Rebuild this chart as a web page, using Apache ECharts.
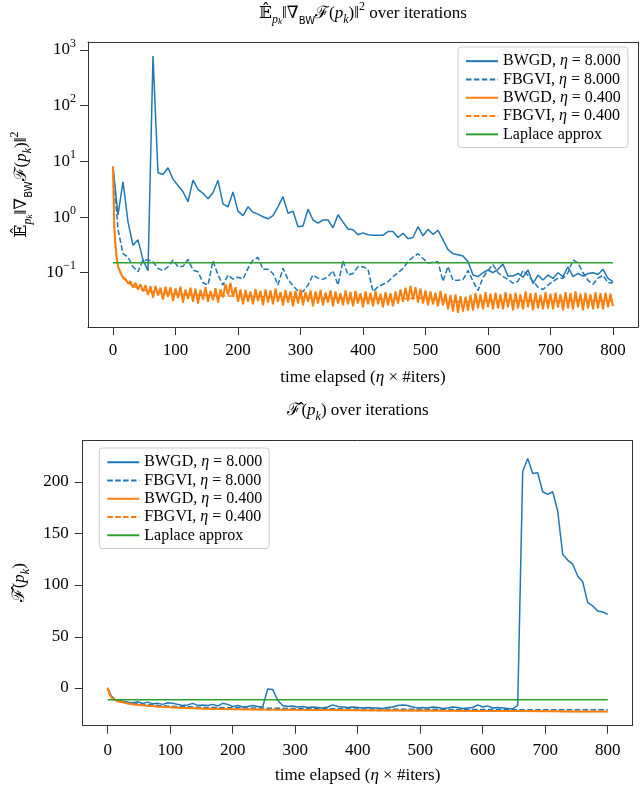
<!DOCTYPE html>
<html><head><meta charset="utf-8">
<script src="https://cdn.jsdelivr.net/npm/echarts@6/dist/echarts.min.js"></script>
<style>html,body{margin:0;padding:0;background:#fff}#c{width:640px;height:785px}</style>
</head><body><div id="c"></div>
<script>
// ---------------- data ----------------
const xTicks = [0, 100, 200, 300, 400, 500, 600, 700, 800];
const topYTicks = [0.1, 1, 10, 100, 1000];
const botYTicks = [0, 50, 100, 150, 200];
const names = ['BWGD, η = 8.000', 'FBGVI, η = 8.000', 'BWGD, η = 0.400', 'FBGVI, η = 0.400', 'Laplace approx'];

// eta = 8 runs: one value every 8 time units (x = 0, 8, ..., 800)
const topBwgd8 = [
  8.0, 1.09, 4.3, 0.82, 0.31, 0.39, 0.17, 0.109, 782, 6.25,
  5.8, 7.7, 4.8, 3.7, 2.85, 1.88, 4.6, 3.15, 2.67, 2.13,
  2.73, 4.57, 1.71, 1.53, 2.82, 1.28, 1.06, 1.53, 1.22, 1.13,
  1.01, 0.93, 1.06, 1.53, 2.32, 1.17, 1.28, 0.67, 0.69, 1.39,
  0.885, 0.78, 0.885, 0.885, 0.64, 1.10, 0.81, 0.61, 0.59, 0.48,
  0.52, 0.48, 0.47, 0.47, 0.47, 0.55, 0.55, 0.43, 0.51, 0.41,
  0.43, 0.67, 0.46, 0.60, 0.49, 0.58, 0.39, 0.26, 0.22, 0.21,
  0.20, 0.158, 0.091, 0.085, 0.10, 0.112, 0.10, 0.115, 0.143, 0.087,
  0.087, 0.097, 0.083, 0.112, 0.064, 0.091, 0.074, 0.091, 0.079, 0.10,
  0.085, 0.128, 0.085, 0.097, 0.087, 0.097, 0.10, 0.093, 0.115, 0.079,
  0.069
];
const topFbgvi8 = [
  8.0, 0.6, 0.22, 0.19, 0.128, 0.104, 0.169, 0.169, 0.158, 0.12,
  0.109, 0.128, 0.169, 0.128, 0.13, 0.174, 0.112, 0.104, 0.066, 0.060,
  0.164, 0.091, 0.060, 0.091, 0.077, 0.083, 0.077, 0.12, 0.169, 0.188,
  0.115, 0.115, 0.097, 0.060, 0.12, 0.076, 0.058, 0.047, 0.046, 0.060,
  0.091, 0.080, 0.076, 0.085, 0.109, 0.060, 0.164, 0.091, 0.097, 0.128,
  0.128, 0.115, 0.046, 0.056, 0.062, 0.069, 0.085, 0.10, 0.12, 0.16,
  0.19, 0.22, 0.18, 0.15, 0.155, 0.158, 0.07, 0.129, 0.073, 0.073,
  0.075, 0.11, 0.07, 0.048, 0.082, 0.11, 0.14, 0.10, 0.085, 0.076,
  0.065, 0.07, 0.11, 0.09, 0.07, 0.055, 0.05, 0.06, 0.07, 0.08,
  0.08, 0.10, 0.17, 0.15, 0.10, 0.073, 0.062, 0.08, 0.09, 0.066,
  0.066
];
// eta = 0.4 BWGD (top): x = 0,2,4,6,8 then 12..800 every 4 (noisy band)
const topBwgd04Head = [8.0, 0.7, 0.3, 0.18, 0.13];
const topBwgd04 = [
  0.10, 0.080, 0.078, 0.064, 0.070, 0.054, 0.066, 0.050, 0.062, 0.046,
  0.060, 0.040, 0.057, 0.036, 0.058, 0.039, 0.054, 0.033, 0.056, 0.037,
  0.055, 0.031, 0.052, 0.035, 0.056, 0.029, 0.050, 0.034, 0.054, 0.030,
  0.052, 0.028, 0.049, 0.033, 0.055, 0.030, 0.047, 0.032, 0.053, 0.029,
  0.050, 0.036, 0.062, 0.040, 0.066, 0.037, 0.055, 0.030, 0.050, 0.027,
  0.049, 0.030, 0.046, 0.027, 0.051, 0.031, 0.047, 0.026, 0.050, 0.029,
  0.048, 0.027, 0.052, 0.030, 0.045, 0.026, 0.049, 0.029, 0.046, 0.025,
  0.047, 0.028, 0.050, 0.026, 0.045, 0.030, 0.048, 0.025, 0.046, 0.028,
  0.049, 0.026, 0.044, 0.029, 0.048, 0.025, 0.046, 0.028, 0.043, 0.026,
  0.048, 0.027, 0.045, 0.025, 0.047, 0.028, 0.043, 0.024, 0.046, 0.027,
  0.044, 0.025, 0.047, 0.027, 0.042, 0.024, 0.045, 0.026, 0.043, 0.025,
  0.046, 0.028, 0.050, 0.030, 0.054, 0.031, 0.058, 0.033, 0.055, 0.029,
  0.052, 0.028, 0.048, 0.026, 0.046, 0.027, 0.044, 0.025, 0.047, 0.026,
  0.042, 0.022, 0.040, 0.020, 0.041, 0.019, 0.038, 0.020, 0.037, 0.021,
  0.040, 0.021, 0.043, 0.023, 0.041, 0.022, 0.045, 0.024, 0.042, 0.022,
  0.044, 0.023, 0.041, 0.022, 0.045, 0.024, 0.042, 0.021, 0.044, 0.023,
  0.041, 0.022, 0.046, 0.024, 0.043, 0.021, 0.044, 0.023, 0.040, 0.022,
  0.045, 0.023, 0.042, 0.022, 0.044, 0.024, 0.041, 0.021, 0.045, 0.023,
  0.043, 0.022, 0.046, 0.024, 0.042, 0.021, 0.044, 0.023, 0.041, 0.022,
  0.045, 0.023, 0.043, 0.022, 0.044, 0.024, 0.042, 0.025
];
const topFbgvi04X = [0, 2, 4, 6, 8, 12, 16, 20, 30, 40, 60, 80, 100, 150, 200, 250, 300, 350, 400, 450, 500, 550, 600, 650, 700, 750, 800];
const topFbgvi04 = [8.0, 0.7, 0.3, 0.18, 0.13, 0.1, 0.085, 0.072, 0.06, 0.052, 0.046, 0.043, 0.041, 0.039, 0.038, 0.037, 0.036, 0.035, 0.034, 0.034, 0.035, 0.03, 0.031, 0.031, 0.031, 0.032, 0.031];
const topLaplace = 0.151;

const botBwgd8 = [
  0, -11, -12.5, -13, -14, -14.5, -13.5, -15, -13.8, -15.5,
  -15, -16, -14.5, -15, -16, -17, -16.5, -15, -17, -16.5,
  -17, -16, -17.5, -15, -16, -18, -17, -18.5, -18, -17,
  -18, -18.5, -1, -1.5, -12, -17, -18, -17.5, -18.5, -18,
  -19, -18.5, -19, -19.5, -18.5, -16.5, -18, -18.5, -19, -18.5,
  -19, -19.5, -19, -19.5, -19.5, -20, -19, -18.5, -17, -16.5,
  -17, -18.5, -19.5, -19, -19.5, -18.5, -19, -20, -19.5, -18.5,
  -19, -20, -19.5, -19, -16.5, -18.5, -17.5, -19.5, -19, -19.5,
  -20, -20.3, -17, 210, 222.6, 208, 208.7, 190.3, 187.7, 190.3,
  171.5, 129.6, 124, 120, 108.6, 103, 82.7, 79.5, 74.7, 73.7,
  71.4
];
const botSmoothX = [0, 3, 6, 10, 15, 20, 30, 40, 50, 60, 80, 100, 125, 150, 200, 250, 300, 350, 400, 450, 500, 550, 600, 650, 700, 750, 800];
const botFbgvi8 = [0, -5, -8, -10, -11.5, -12.5, -13.8, -14.8, -15.5, -16, -17, -17.8, -18.3, -18.9, -19.3, -19.6, -20, -20.2, -20.4, -20.6, -20.7, -20.9, -21, -21.1, -21.2, -21.3, -21.3];
const botBwgd04 = [0, -6, -9, -11, -12.5, -13.5, -14.8, -15.8, -16.5, -17.1, -18.1, -18.9, -19.5, -20, -20.6, -21, -21.3, -21.5, -21.7, -21.9, -22, -22.2, -22.4, -22.5, -22.6, -22.8, -22.9];
const botFbgvi04 = [0, -6.3, -9.2, -11.2, -12.6, -13.6, -14.9, -15.9, -16.6, -17.2, -18.2, -19, -19.6, -20.1, -20.7, -21.1, -21.4, -21.6, -21.8, -22, -22.1, -22.3, -22.5, -22.6, -22.7, -22.9, -23];
const botLaplace = -11.5;

// ---------------- helpers ----------------
const BLUE = '#1f77b4', ORANGE = '#ff7f0e', GREEN = '#2ca02c';
const SERIF = "'Liberation Serif','DejaVu Serif',serif";
const SANS = "'DejaVu Sans','Liberation Sans',sans-serif";
const AX = '#333';
const DASH = [5.5, 2.4];
const TICK_LEN = 8;

// plot boxes
const TOP = {left: 88, top: 42, width: 550, height: 285, xmin: -40, xmax: 840, lmin: 0.0106, lmax: 1393};
const BOT = {left: 82.7, top: 440.5, width: 550, height: 285.2, xmin: -40, xmax: 840, ymin: -36, ymax: 240};

function mathRich(fs) {
  const lh = Math.round(fs * 1.45);
  const base = {fontFamily: SERIF, fontWeight: 'normal', color: '#000'};
  return {
    m: Object.assign({}, base, {fontSize: fs, lineHeight: lh}),
    i: Object.assign({}, base, {fontSize: fs, lineHeight: lh, fontStyle: 'italic'}),
    sb: Object.assign({}, base, {fontSize: Math.round(fs * 0.7), lineHeight: Math.round(fs * 0.85), verticalAlign: 'bottom', fontStyle: 'italic'}),
    ssb: Object.assign({}, base, {fontSize: Math.round(fs * 0.55), lineHeight: Math.round(fs * 0.6), verticalAlign: 'bottom', fontStyle: 'italic'}),
    bw: Object.assign({}, base, {fontFamily: SANS, fontSize: Math.round(fs * 0.6), lineHeight: Math.round(fs * 0.85), verticalAlign: 'bottom'}),
    sp: Object.assign({}, base, {fontSize: Math.round(fs * 0.7), lineHeight: Math.round(fs * 0.85), verticalAlign: 'top'})
  };
}
const gradText = '{m|𝔼̂}{sb|p}{ssb|k}{m|‖∇}{bw|BW}{m|ℱ(}{i|p}{sb|k}{m|)‖}{sp|2}';
const fText = '{m|ℱ̂(}{i|p}{sb|k}{m|)}';
const xName = '{m|time elapsed (}{i|η}{m| × #iters)}';

function pairs(xs, ys) { return ys.map((v, k) => [xs[k], v]); }
const x8 = topBwgd8.map((_, k) => k * 8);
const topOrangeX = [0, 2, 4, 6, 8].concat(topBwgd04.map((_, k) => 12 + k * 4));

function lineSeries(name, data, color, dashed, ai, w) {
  return {
    name, type: 'line', data, xAxisIndex: ai, yAxisIndex: ai,
    showSymbol: false, symbol: 'none', silent: true, animation: false,
    lineStyle: {color, width: w || 1.5, type: dashed ? DASH : 'solid'},
    itemStyle: {color}
  };
}

const axisLineOn = () => ({show: true, onZero: false, lineStyle: {color: AX, width: 1}});

function mainX(gi, margin) {
  return {
    type: 'value', gridIndex: gi, min: -40, max: 840, splitNumber: 9, position: 'bottom',
    axisLine: axisLineOn(),
    axisTick: {show: false},
    axisLabel: {showMinLabel: false, showMaxLabel: false, margin: margin,
      formatter: v => (xTicks.indexOf(v) >= 0 ? String(v) : ''),
      fontFamily: SERIF, fontSize: 17, color: '#000'},
    splitLine: {show: false},
    name: xName, nameLocation: 'middle', nameGap: 38,
    nameTextStyle: {rich: mathRich(17), verticalAlign: 'top'}
  };
}
// frame-only axes (top / right edge of each plot box)
function frameX(gi) {
  return {type: 'value', gridIndex: gi, min: -40, max: 840, position: 'top',
    axisLine: axisLineOn(), axisTick: {show: false}, axisLabel: {show: false}, splitLine: {show: false}};
}
function frameY(gi) {
  return {type: 'value', gridIndex: gi, min: 0, max: 1, position: 'right',
    axisLine: axisLineOn(), axisTick: {show: false}, axisLabel: {show: false}, splitLine: {show: false}};
}
// tick strips: thin grids just outside each box whose split lines act as outward ticks
const tickLine = {show: true, lineStyle: {color: AX, width: 1}};
function hiddenAxis(gi) {
  return {type: 'value', gridIndex: gi, min: 0, max: 1, show: false, splitLine: {show: false}};
}
function stripX(gi, ticks) {
  return {type: 'value', gridIndex: gi, min: ticks[0], max: ticks[ticks.length - 1], interval: ticks[1] - ticks[0],
    axisLine: {show: false}, axisTick: {show: false}, axisLabel: {show: false}, splitLine: tickLine};
}
function stripY(gi, ticks, log) {
  const o = {gridIndex: gi, min: ticks[0], max: ticks[ticks.length - 1],
    axisLine: {show: false}, axisTick: {show: false}, axisLabel: {show: false}, splitLine: tickLine, minorTick: {show: false}};
  if (log) { o.type = 'log'; o.logBase = 10; o.interval = 1; }
  else { o.type = 'value'; o.interval = ticks[1] - ticks[0]; }
  return o;
}
const topPx = TOP.width / (TOP.xmax - TOP.xmin);
const botPx = BOT.width / (BOT.xmax - BOT.xmin);
const topDecade = TOP.height / (Math.log10(TOP.lmax) - Math.log10(TOP.lmin));
const botPy = BOT.height / (BOT.ymax - BOT.ymin);
const stripGrids = [
  // 2: below top box
  {left: TOP.left + (xTicks[0] - TOP.xmin) * topPx, width: (xTicks[8] - xTicks[0]) * topPx, top: TOP.top + TOP.height, height: TICK_LEN},
  // 3: below bottom box
  {left: BOT.left + (xTicks[0] - BOT.xmin) * botPx, width: (xTicks[8] - xTicks[0]) * botPx, top: BOT.top + BOT.height, height: TICK_LEN},
  // 4: left of top box
  {left: TOP.left - TICK_LEN, width: TICK_LEN, top: TOP.top + (Math.log10(TOP.lmax) - Math.log10(topYTicks[4])) * topDecade,
   height: (Math.log10(topYTicks[4]) - Math.log10(topYTicks[0])) * topDecade},
  // 5: left of bottom box
  {left: BOT.left - TICK_LEN, width: TICK_LEN, top: BOT.top + (BOT.ymax - botYTicks[4]) * botPy,
   height: (botYTicks[4] - botYTicks[0]) * botPy}
];

const legendCommon = {
  orient: 'vertical', selectedMode: false, data: names,
  itemWidth: 32, itemHeight: 12, itemGap: 0,
  itemStyle: {opacity: 0},
  backgroundColor: '#fff', borderColor: '#ccc', borderWidth: 1, borderRadius: 3,
  padding: [5, 7, 4, 7],
  formatter: n => n.replace('η', '{i|η}'),
  textStyle: {
    fontFamily: SERIF, fontSize: 16, lineHeight: 18.3, color: '#000',
    rich: {i: {fontFamily: SERIF, fontSize: 16, lineHeight: 18.3, fontStyle: 'italic', color: '#000'}}
  }
};

const chart = echarts.init(document.getElementById('c'), null, {renderer: 'canvas'});
chart.setOption({
  animation: false,
  backgroundColor: '#fff',
  title: [
    {text: gradText + '{m| over iterations}', left: 363, top: 1, textAlign: 'center', padding: 0,
     textStyle: {fontWeight: 'normal', rich: mathRich(17)}},
    {text: '{m|ℱ̂(}{i|p}{sb|k}{m|) over iterations}', left: 358, top: 398, textAlign: 'center', padding: 0,
     textStyle: {fontWeight: 'normal', rich: mathRich(17)}}
  ],
  grid: [
    {left: TOP.left, top: TOP.top, width: TOP.width, height: TOP.height},
    {left: BOT.left, top: BOT.top, width: BOT.width, height: BOT.height}
  ].concat(stripGrids),
  legend: [
    Object.assign({left: 458, top: 47}, legendCommon),
    Object.assign({left: 99.3, top: 448}, legendCommon)
  ],
  xAxis: [
    mainX(0, 15), mainX(1, 17), frameX(0), frameX(1),
    stripX(2, xTicks), stripX(3, xTicks), hiddenAxis(4), hiddenAxis(5)
  ],
  yAxis: [
    {
      type: 'log', logBase: 10, gridIndex: 0, min: TOP.lmin, max: TOP.lmax, splitNumber: 5, position: 'left',
      axisLine: axisLineOn(),
      axisTick: {show: false},
      axisLabel: {
        showMinLabel: false, showMaxLabel: false, margin: 12,
        formatter: v => {
          const e = Math.round(Math.log10(v));
          if (Math.abs(Math.log10(v) - e) > 1e-6) return '';
          return '{m|10}{sp|' + String(e).replace('-', '−') + '}';
        },
        rich: mathRich(17)
      },
      splitLine: {show: false}, minorTick: {show: false},
      name: gradText, nameLocation: 'middle', nameRotate: 90, nameGap: 54,
      nameTextStyle: {rich: mathRich(17)}
    },
    {
      type: 'value', gridIndex: 1, min: BOT.ymin, max: BOT.ymax, splitNumber: 5, position: 'left',
      axisLine: axisLineOn(),
      axisTick: {show: false},
      axisLabel: {showMinLabel: false, showMaxLabel: false, margin: 14,
        formatter: v => (botYTicks.indexOf(v) >= 0 ? String(v) : ''),
        fontFamily: SERIF, fontSize: 17, color: '#000'},
      splitLine: {show: false},
      name: fText, nameLocation: 'middle', nameRotate: 90, nameGap: 48,
      nameTextStyle: {rich: mathRich(17)}
    },
    frameY(0), frameY(1),
    hiddenAxis(2), hiddenAxis(3), stripY(4, topYTicks, true), stripY(5, botYTicks, false)
  ],
  series: [
    lineSeries(names[0], pairs(x8, topBwgd8), BLUE, false, 0),
    lineSeries(names[1], pairs(x8, topFbgvi8), BLUE, true, 0),
    lineSeries(names[2], pairs(topOrangeX, topBwgd04Head.concat(topBwgd04)), ORANGE, false, 0, 2),
    lineSeries(names[3], pairs(topFbgvi04X, topFbgvi04), ORANGE, true, 0),
    lineSeries(names[4], [[0, topLaplace], [800, topLaplace]], GREEN, false, 0),
    lineSeries(names[0], pairs(x8, botBwgd8), BLUE, false, 1),
    lineSeries(names[1], pairs(botSmoothX, botFbgvi8), BLUE, true, 1),
    lineSeries(names[2], pairs(botSmoothX, botBwgd04), ORANGE, false, 1, 2),
    lineSeries(names[3], pairs(botSmoothX, botFbgvi04), ORANGE, true, 1),
    lineSeries(names[4], [[0, botLaplace], [800, botLaplace]], GREEN, false, 1)
  ]
});
</script></body></html>
